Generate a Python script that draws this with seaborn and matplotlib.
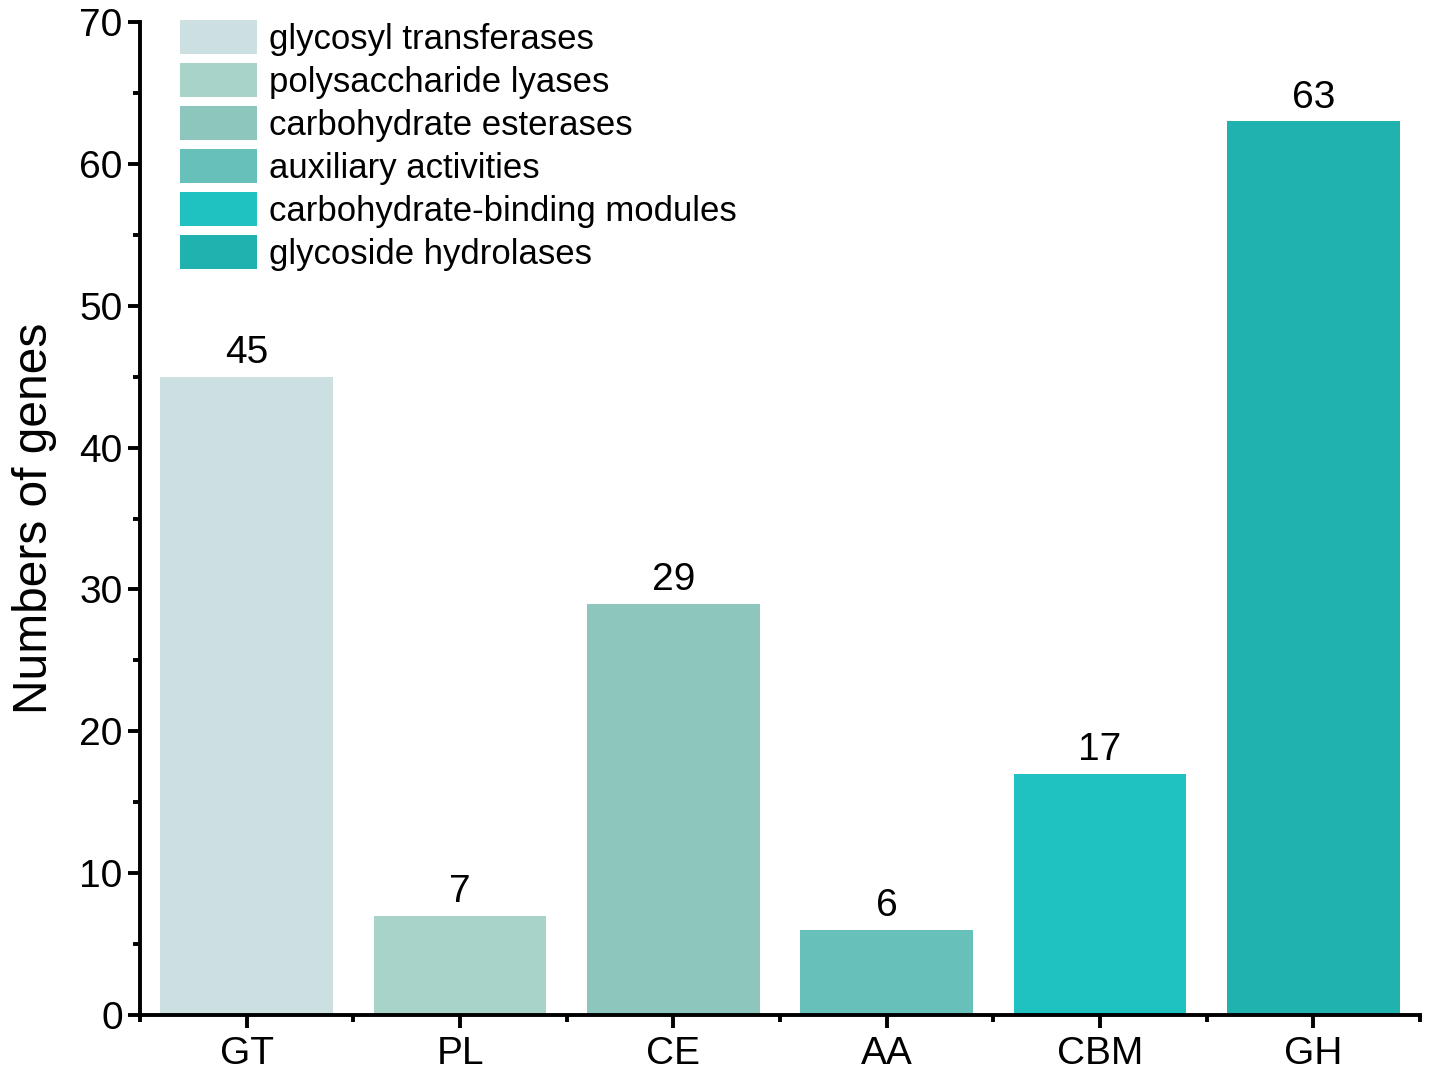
import pandas as pd
import numpy as np
import matplotlib.pyplot as plt
import seaborn as sns
from matplotlib.ticker import MultipleLocator

sns.set_style('ticks')
plt.rcParams['font.family'] = ['Liberation Sans', 'DejaVu Sans']
plt.rcParams['text.color'] = 'black'
plt.rcParams['axes.labelcolor'] = 'black'
plt.rcParams['xtick.color'] = 'black'
plt.rcParams['ytick.color'] = 'black'
plt.rcParams['axes.edgecolor'] = 'black'

categories = ['GT', 'PL', 'CE', 'AA', 'CBM', 'GH']
names = ['glycosyl transferases', 'polysaccharide lyases', 'carbohydrate esterases',
         'auxiliary activities', 'carbohydrate-binding modules', 'glycoside hydrolases']
counts = [45, 7, 29, 6, 17, 63]
colors = ['#cce0e1', '#a7d3c8', '#8cc6bd', '#68c0bb', '#1fc1c1', '#1fb2ae']

df = pd.DataFrame({'Family': categories, 'Name': names, 'Count': counts})

fig = plt.figure(figsize=(14.29, 10.78), dpi=100)
ax = fig.add_axes([0.098, 0.0584, 0.8957, 0.9212])

sns.barplot(data=df, x='Family', y='Count', hue='Name', hue_order=names,
            palette=colors, width=0.81, dodge=False, ax=ax, saturation=1,
            edgecolor='none')

for c in ax.containers:
    ax.bar_label(c, fontsize=28, padding=4, color='black')

ax.set_xlim(-0.5, 5.5)
ax.set_ylim(0, 70)
ax.yaxis.set_major_locator(MultipleLocator(10))
ax.yaxis.set_minor_locator(MultipleLocator(5))
ax.xaxis.set_minor_locator(MultipleLocator(1, offset=0.5))
ax.set_xlabel('')
ax.set_ylabel('Numbers of genes', fontsize=34.5, labelpad=16)

for s in ['top', 'right']:
    ax.spines[s].set_visible(False)
for s in ['left', 'bottom']:
    ax.spines[s].set_linewidth(2.8)

ax.tick_params(axis='both', which='major', labelsize=28, width=2.8, length=9, direction='out')
ax.tick_params(axis='both', which='minor', width=2.8, length=5, direction='out')
ax.tick_params(axis='x', which='major', pad=6)

ax.legend(loc='upper left', bbox_to_anchor=(0.026, 1.009), frameon=False, fontsize=25,
          borderaxespad=0, borderpad=0.2,
          handlelength=2.2, handleheight=1.15, labelspacing=0.2, handletextpad=0.35)

fig.savefig('out.png', dpi=100)
